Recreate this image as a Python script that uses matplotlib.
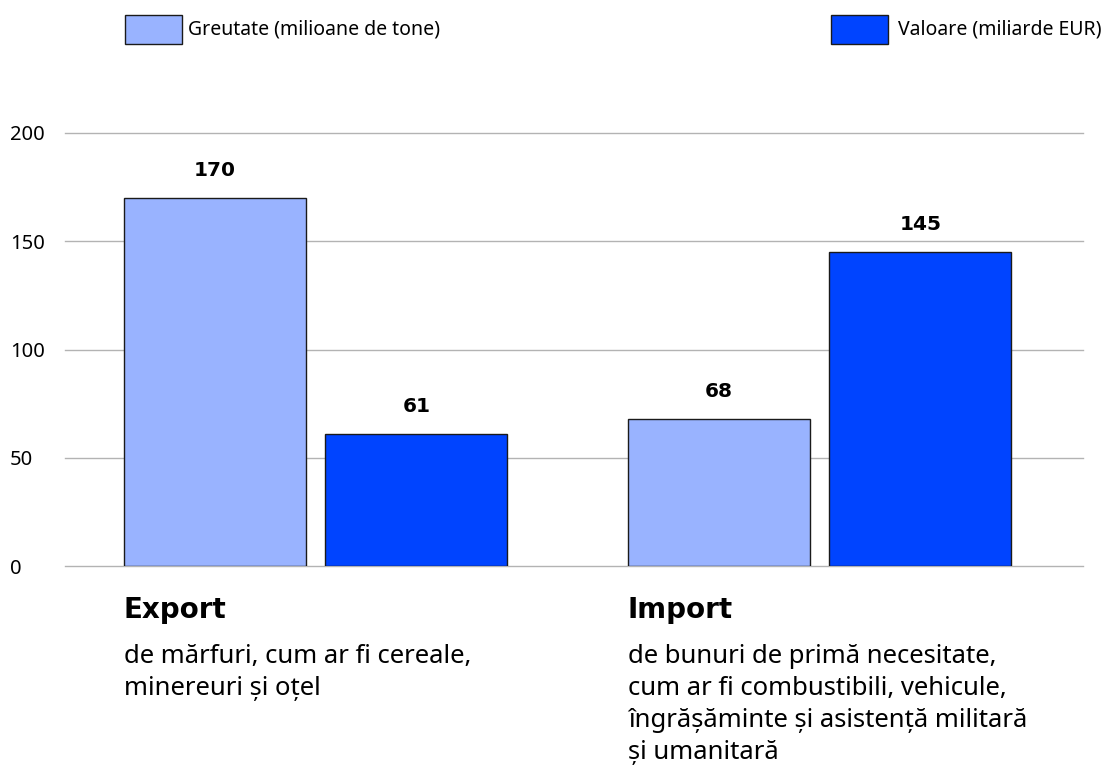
import matplotlib
matplotlib.use("Agg")
import matplotlib.pyplot as plt
from matplotlib.patches import Rectangle
from matplotlib.transforms import blended_transform_factory
import numpy as np

# data
groups = ["Export", "Import"]
descriptions = [
    "de mărfuri, cum ar fi cereale,\nminereuri și oțel",
    "de bunuri de primă necesitate,\ncum ar fi combustibili, vehicule,\nîngrășăminte și asistență militară\nși umanitară",
]
series = ["Greutate (milioane de tone)", "Valoare (miliarde EUR)"]
weight = [170, 68]
value = [61, 145]
colors = ["#99b3ff", "#0044ff"]

TXT = ["Noto Sans", "DejaVu Sans"]

fig = plt.figure(figsize=(11.05, 7.73), dpi=100)
ax = fig.add_axes([65 / 1105, (773 - 566) / 773, (1083 - 65) / 1105, 433 / 773])

x = np.arange(len(groups))
w = 0.361
off = 0.2
b1 = ax.bar(x - off, weight, w, color=colors[0], edgecolor="#1a1a1a", linewidth=1, zorder=3)
b2 = ax.bar(x + off, value, w, color=colors[1], edgecolor="#1a1a1a", linewidth=1, zorder=3)

for bars, vals in [(b1, weight), (b2, value)]:
    for rect, v in zip(bars, vals):
        ax.annotate(str(v), (rect.get_x() + rect.get_width() / 2, v),
                    xytext=(0, 19.5), textcoords="offset points",
                    ha="center", va="center", fontsize=14.5, fontweight="bold",
                    family="DejaVu Sans")

ax.set_xlim(-0.497, 1.523)
ax.set_ylim(0, 200)
ax.set_yticks([0, 50, 100, 150, 200])
ax.yaxis.grid(True, color="#b3b3b3", linewidth=1, zorder=0)
ax.set_axisbelow(True)
for s in ax.spines.values():
    s.set_visible(False)
ax.set_xticks([])
ax.tick_params(axis="y", length=0, pad=39.6, labelsize=14.5)
for lbl in ax.get_yticklabels():
    lbl.set_family(TXT)
    lbl.set_horizontalalignment("left")
for gl in ax.get_ygridlines():
    gl.set_clip_on(False)

# group captions under the bars
tr = blended_transform_factory(ax.transData, fig.transFigure)
for i, (g, d) in enumerate(zip(groups, descriptions)):
    left = x[i] - off - w / 2
    ax.text(left, (773 - 610) / 773, g, transform=tr, ha="left", va="center",
            fontsize=20, fontweight="bold", family="DejaVu Sans")
    ax.text(left, (773 - 644) / 773, d, transform=tr, ha="left", va="top",
            fontsize=18.5, family=TXT, linespacing=1.37)

# legend
legend_pos = [(125, 188), (831, 898)]
for (px, tx), lab, c in zip(legend_pos, series, colors):
    fig.patches.append(Rectangle((px / 1105, (773 - 44) / 773), 57 / 1105, 29 / 773,
                                 transform=fig.transFigure, facecolor=c,
                                 edgecolor="#1a1a1a", linewidth=1))
    fig.text(tx / 1105, (773 - 30) / 773, lab, ha="left", va="center",
             fontsize=14, family=TXT)

fig.savefig("out.png", dpi=100)
